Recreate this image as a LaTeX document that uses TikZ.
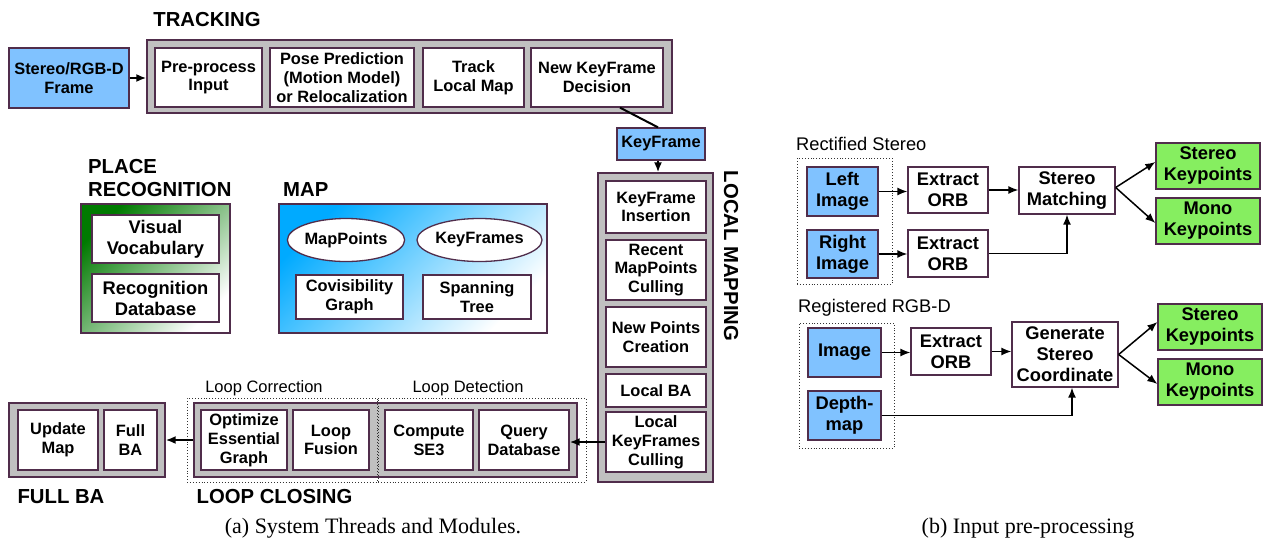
\documentclass[tikz,border=0pt]{standalone}
\usepackage{fontspec}
\setmainfont{Liberation Serif}
\setsansfont{Liberation Sans}
\usepackage{tikz}
\usetikzlibrary{arrows.meta}
\usetikzlibrary{shapes.geometric}
\usetikzlibrary{positioning}
\definecolor{boxline}{RGB}{80,45,75}
\definecolor{thread}{RGB}{192,192,192}
\definecolor{inblue}{RGB}{128,194,255}
\definecolor{outgreen}{RGB}{134,238,96}
\definecolor{placegreen}{RGB}{0,122,0}
\definecolor{mapblue}{RGB}{0,170,255}

\begin{document}
\begin{tikzpicture}[x=1pt, y=-1pt,
size/.style 2 args = {minimum width=#1pt, minimum height=#2pt},
box/.style = {draw=boxline, line width=1.3pt, fill=white, inner sep=0pt, align=center,
  font=\sffamily\bfseries\fontsize{16.4}{18.8}\selectfont},
boxr/.style = {box, font=\sffamily\bfseries\fontsize{18.3}{21}\selectfont},
lane/.style = {box, fill=thread},
input/.style = {box, fill=inblue},
inputr/.style = {boxr, fill=inblue},
output/.style = {boxr, fill=outgreen},
store/.style = {box, ellipse},
group/.style = {draw=black!80, dotted, line width=0.9pt, inner sep=0pt},
title/.style = {font=\sffamily\bfseries\fontsize{20.3}{23}\selectfont, inner sep=0pt, align=left},
note/.style = {font=\sffamily\fontsize{16.5}{19}\selectfont, inner sep=0pt},
noter/.style = {font=\sffamily\fontsize{18.3}{21}\selectfont, inner sep=0pt},
caption/.style = {font=\rmfamily\fontsize{22}{26}\selectfont, inner sep=0pt},
edge/.style = {line width=2pt, -{Latex[length=10pt,width=8pt]}},
edge2/.style = {line width=1.5pt, -{Latex[length=10pt,width=8pt]}}]
\useasboundingbox (0,0) rectangle (1263,541);

% tracking
\node[title] (tTrack) at (207,20) {TRACKING};
\node[input, size={120}{60}] (frame) at (69,78) {Stereo/RGB-D\\Frame};
\node[lane, size={525}{73}] (trackbg) at (409.5,76.5) {};
\node[box, size={107}{59}] (pre) at (208.5,77.5) {Pre-process\\Input};
\node[box, size={144}{59}] (pose) at (342,77.5) {Pose Prediction\\(Motion Model)\\or Relocalization};
\node[box, size={101}{59}] (track) at (473.5,77.5) {Track\\Local Map};
\node[box, size={132}{59}] (newkf) at (597,77.5) {New KeyFrame\\Decision};
\node[input, size={88}{32}] (kf) at (661,144) {KeyFrame};
\draw[edge] (frame.east) -- (trackbg.west |- frame.east);
\draw[line width=2pt] ([xshift=23pt]newkf.south) -- ([xshift=-3pt]kf.north);

% place recognition and map
\node[title, anchor=west] (tPlace) at (88,178.5) {PLACE\\RECOGNITION};
\node[box, size={149}{129}, left color=placegreen, right color=white, shading angle=45] (placebg) at (155.5,268.5) {};
\node[boxr, size={127}{48}] (vocab) at (155.5,239) {Visual\\Vocabulary};
\node[boxr, size={127}{48}] (recdb) at (155.5,298) {Recognition\\Database};
\node[title, anchor=west] (tMap) at (283,190) {MAP};
\node[box, size={268}{129}, left color=mapblue, right color=white, shading angle=45] (mapbg) at (413,268.5) {};
\node[store, size={116}{43}] (mappts) at (346,240) {MapPoints};
\node[store, size={115}{43}] (kfs) at (479.5,240) {KeyFrames};
\node[box, size={107}{44}] (covis) at (349.5,297) {Covisibility\\Graph};
\node[box, size={108}{44}] (span) at (477,297) {Spanning\\Tree};

% local mapping
\node[lane, size={115}{309}] (lmbg) at (655.5,327.5) {};
\node[box, size={100}{52}] (kfins) at (656,207) {KeyFrame\\Insertion};
\node[box, size={100}{60}] (recent) at (656,270) {Recent\\MapPoints\\Culling};
\node[box, size={100}{60}] (newpts) at (656,337) {New Points\\Creation};
\node[box, size={100}{33}] (localba) at (656,390.5) {Local BA};
\node[box, size={100}{60}] (lkfc) at (656,442) {Local\\KeyFrames\\Culling};
\node[title, rotate=-90] (tLocal) at (731,256) {LOCAL MAPPING};
\draw[edge] ([xshift=-3pt]kf.south) -- ([xshift=-3pt]kf.south |- lmbg.north);

% loop closing
\node[lane, size={383}{74}] (lcbg) at (385.5,440) {};
\node[box, size={86}{60}] (optim) at (244,440) {Optimize\\Essential\\Graph};
\node[box, size={76}{60}] (fusion) at (331,440) {Loop\\Fusion};
\node[box, size={88}{60}] (se3) at (429,440) {Compute\\SE3};
\node[box, size={90}{60}] (query) at (524,440) {Query\\Database};
\node[group, minimum width=190pt, minimum height=84pt] (corr) at (282,440) {};
\node[group, minimum width=208pt, minimum height=84pt] (detect) at (482,440) {};
\node[note] (tCorr) at (264,388) {Loop Correction};
\node[note] (tDetect) at (468,388) {Loop Detection};
\node[title] (tLoop) at (274.5,497) {LOOP CLOSING};
\draw[edge] (lkfc.west) -- (lkfc.west -| query.east);

% full BA
\node[lane, size={156}{74}] (fbbg) at (87,440) {};
\node[box, size={80}{60}] (update) at (58,440) {Update\\Map};
\node[box, size={53}{60}] (fullba) at (130.5,440) {Full\\BA};
\node[title] (tFull) at (61,497) {FULL BA};
\draw[edge] (lcbg.west) -- (fbbg.east);

% rectified stereo
\node[noter, anchor=west] (tStereo) at (796,144) {Rectified Stereo};
\node[group, minimum width=95pt, minimum height=126pt] (stgroup) at (844.5,221) {};
\node[inputr, size={71}{49}] (leftimg) at (842.5,191.5) {Left\\Image};
\node[inputr, size={71}{48}] (rightimg) at (842.5,254) {Right\\Image};
\node[boxr, size={80}{46}] (orbl) at (948,190) {Extract\\ORB};
\node[boxr, size={80}{47}] (orbr) at (948,253.5) {Extract\\ORB};
\node[boxr, size={96}{47}] (match) at (1067,190.5) {Stereo\\Matching};
\node[output, size={104}{46}] (skpa) at (1208,166) {Stereo\\Keypoints};
\node[output, size={104}{46}] (mkpa) at (1208,221) {Mono\\Keypoints};
\draw[edge2] (leftimg.east) -- (orbl.west |- leftimg.east);
\draw[edge2] (rightimg.east) -- (orbr.west |- rightimg.east);
\draw[edge2] (orbl.east) -- (match.west |- orbl.east);
\draw[edge2] (orbr.east) -| (match.south);
\draw[edge2] ([yshift=3pt]match.east) -- ([yshift=4pt]skpa.west);
\draw[edge2] ([yshift=3pt]match.east) -- ([yshift=-2pt]mkpa.west);

% registered RGB-D
\node[noter, anchor=west] (tRgbd) at (798,308) {Registered RGB-D};
\node[group, minimum width=95pt, minimum height=125pt] (rgbgroup) at (846.5,385.5) {};
\node[inputr, size={73}{49}] (img) at (844.5,352.5) {Image};
\node[inputr, size={73}{49}] (depth) at (844.5,415.5) {Depth-\\map};
\node[boxr, size={80}{47}] (orbd) at (951,351.5) {Extract\\ORB};
\node[boxr, size={106}{65}] (gen) at (1065,354.5) {Generate\\Stereo\\Coordinate};
\node[output, size={104}{46}] (skpb) at (1210,327) {Stereo\\Keypoints};
\node[output, size={104}{46}] (mkpb) at (1210,382) {Mono\\Keypoints};
\draw[edge2] (img.east) -- (orbd.west |- img.east);
\draw[edge2] (orbd.east) -- (gen.west |- orbd.east);
\draw[edge2] (depth.east) -| ([xshift=7pt]gen.south);
\draw[edge2] (gen.east) -- ([yshift=5pt]skpb.west);
\draw[edge2] (gen.east) -- ([yshift=-2pt]mkpb.west);

% captions
\node[caption] (capa) at (373,528) {(a) System Threads and Modules.};
\node[caption] (capb) at (1028,528) {(b) Input pre-processing};
\end{tikzpicture}
\end{document}
